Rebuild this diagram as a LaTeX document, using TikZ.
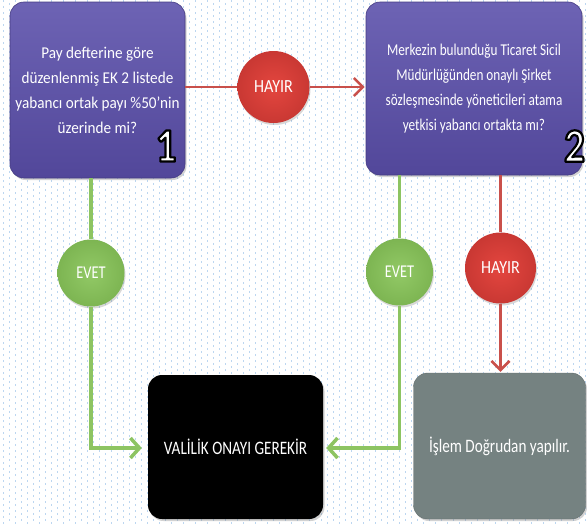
\documentclass[tikz,border=0pt]{standalone}
\usepackage{fontspec}
\setmainfont{Carlito}
\newfontfamily\narrowf[FakeStretch=0.8]{Carlito}
\newfontfamily\midf[FakeStretch=0.92]{Carlito}
\newfontfamily\ballf[FakeStretch=0.87]{Carlito}
\newfontfamily\narrowbf[FakeStretch=0.85]{Carlito Bold}
\usetikzlibrary{arrows.meta,shadows}
\definecolor{qpurpleT}{HTML}{6D63B4}
\definecolor{qpurpleB}{HTML}{52479A}
\definecolor{ggrey}{HTML}{758281}
\definecolor{bred}{HTML}{E4463F}
\definecolor{bredO}{HTML}{C93833}
\definecolor{bgreen}{HTML}{92C966}
\definecolor{bgreenO}{HTML}{7DB552}
\definecolor{lgreen}{HTML}{8DC462}
\definecolor{lred}{HTML}{C9504B}
\definecolor{dotblue}{HTML}{BCD6F0}
\newcommand{\outlinednum}[1]{\special{pdf:literal direct 2 Tr 2.2 w 1 j 0 0 0 RG}#1\special{pdf:literal direct 0 Tr}}
\begin{document}
\begin{tikzpicture}[x=1pt,y=-1pt,
  qbox/.style={rectangle, rounded corners=14pt, draw=qpurpleB!85!black, line width=0.6pt,
    top color=qpurpleT, bottom color=qpurpleB, text=white, align=center,
    font=\narrowf\fontsize{16.5}{25}\selectfont, inner sep=0pt,
    drop shadow={opacity=0.35, shadow xshift=1.5pt, shadow yshift=-2pt}},
  rbox/.style={rectangle, rounded corners=14pt, text=white, align=center,
    font=\narrowf\fontsize{19}{24}\selectfont, inner sep=0pt,
    drop shadow={opacity=0.35, shadow xshift=1.5pt, shadow yshift=-2pt}},
  noball/.style={circle, inner sep=0pt, minimum size=72pt, inner color=bred, outer color=bredO,
    text=white, font=\ballf\fontsize{18.5}{20}\selectfont,
    drop shadow={opacity=0.3, shadow xshift=1pt, shadow yshift=-2pt}},
  yesball/.style={circle, inner sep=0pt, minimum size=67pt, inner color=bgreen, outer color=bgreenO,
    text=white, font=\narrowf\fontsize{18}{20}\selectfont,
    drop shadow={opacity=0.3, shadow xshift=1pt, shadow yshift=-2pt}},
  gline/.style={draw=lgreen, line width=3.5pt},
  garrow/.style={gline, -{Straight Barb[length=9pt,width=20pt,line width=3.5pt]}},
  rline/.style={draw=lred, line width=2.6pt},
  rarrow/.style={rline, -{Straight Barb[length=9pt,width=18pt,line width=2.6pt]}},
  numfont/.style={font=\narrowbf\fontsize{48}{48}\selectfont, inner sep=0pt, text=white}
]
\useasboundingbox (0,0) rectangle (587,525);
\fill[white] (0,0) rectangle (587,525);
% dotted background
\foreach \i in {0,...,97} {
  \pgfmathsetmacro{\xx}{3+6*\i}
  \pgfmathsetmacro{\ph}{mod(\i,2)*3}
  \draw[dotblue, line width=0.9pt, dash pattern=on 1.5pt off 4.5pt, dash phase=\ph pt] (\xx,0) -- (\xx,525);
}

% nodes
\node[qbox, font=\midf\fontsize{16.5}{25}\selectfont, minimum width=175pt, minimum height=176pt] (b1) at (97.5,90)
  {Pay defterine göre\\düzenlenmiş EK 2 listede\\yabancı ortak payı \%50’nin\\üzerinde mi?};
\node[qbox, minimum width=216pt, minimum height=173pt] (b2) at (474,88.5)
  {Merkezin bulunduğu Ticaret Sicil\\Müdürlüğünden onaylı Şirket\\sözleşmesinde yöneticileri atama\\yetkisi yabancı ortakta mı?};
\node[rbox, fill=black, minimum width=175pt, minimum height=144pt] (v) at (235.5,447) {VALİLİK ONAYI GEREKİR};
\node[rbox, fill=ggrey, draw=ggrey!85!black, minimum width=172pt, minimum height=146pt] (g) at (499.5,446) {İşlem Doğrudan yapılır.};

% numbers
\node[numfont] (n1) at (166,146) {\outlinednum{1}};
\node[numfont] (n2) at (574.5,146) {\outlinednum{2}};

% balls
\node[noball] (h1) at (273.5,87) {HAYIR};
\node[yesball] (e1) at (91,273) {EVET};
\node[yesball] (e2) at (399.5,272) {EVET};
\node[noball, minimum size=71pt] (h2) at (500.5,268) {HAYIR};

% connectors
\draw[rline] (b1.east |- h1.center) -- (h1);
\draw[rarrow, shorten >=1pt] (h1) -- (b2.west |- h1.center);
\draw[gline] (b1.south -| e1.center) -- (e1);
\draw[garrow, shorten >=6pt] (e1) |- (v.west |- 0,448);
\draw[gline] (b2.south -| e2.center) -- (e2);
\draw[garrow, shorten >=3pt] (e2) |- (v.east |- 0,448);
\draw[rline] (b2.south -| h2.center) -- (h2);
\draw[rarrow, shorten >=1pt] (h2) -- (g.north -| h2.center);
\end{tikzpicture}
\end{document}
